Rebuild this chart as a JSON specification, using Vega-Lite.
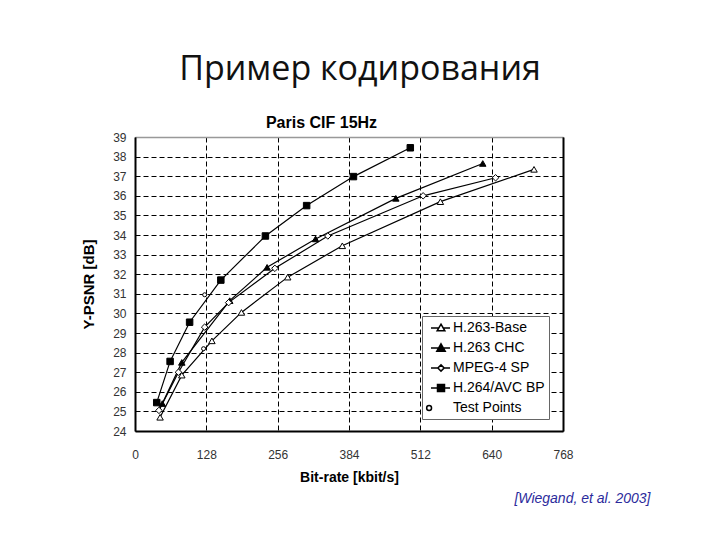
{
  "$schema": "https://vega.github.io/schema/vega-lite/v6.json",
  "width": 428,
  "height": 294,
  "autosize": {"type": "none"},
  "padding": {"left": 135, "top": 137, "right": 157, "bottom": 109},
  "background": "white",
  "title": {"text": "Пример кодирования", "font": "Open Sans", "fontSize": 34, "fontWeight": "normal", "color": "#111111", "anchor": "middle", "dx": 11, "offset": 27},
  "data": {"values": [
    {"series": "H.263-Base", "rate": 45, "psnr": 24.7},
    {"series": "H.263-Base", "rate": 84, "psnr": 26.85},
    {"series": "H.263-Base", "rate": 138, "psnr": 28.6},
    {"series": "H.263-Base", "rate": 191, "psnr": 30.05},
    {"series": "H.263-Base", "rate": 274, "psnr": 31.85},
    {"series": "H.263-Base", "rate": 372, "psnr": 33.45},
    {"series": "H.263-Base", "rate": 548, "psnr": 35.7},
    {"series": "H.263-Base", "rate": 716, "psnr": 37.35},
    {"series": "H.263 CHC", "rate": 49, "psnr": 25.4},
    {"series": "H.263 CHC", "rate": 84, "psnr": 27.5},
    {"series": "H.263 CHC", "rate": 170, "psnr": 30.65},
    {"series": "H.263 CHC", "rate": 237, "psnr": 32.35},
    {"series": "H.263 CHC", "rate": 324, "psnr": 33.8},
    {"series": "H.263 CHC", "rate": 468, "psnr": 35.87},
    {"series": "H.263 CHC", "rate": 624, "psnr": 37.65},
    {"series": "MPEG-4 SP", "rate": 43, "psnr": 25.05},
    {"series": "MPEG-4 SP", "rate": 78, "psnr": 27.0},
    {"series": "MPEG-4 SP", "rate": 125, "psnr": 29.3},
    {"series": "MPEG-4 SP", "rate": 168, "psnr": 30.55},
    {"series": "MPEG-4 SP", "rate": 251, "psnr": 32.3},
    {"series": "MPEG-4 SP", "rate": 346, "psnr": 33.95},
    {"series": "MPEG-4 SP", "rate": 517, "psnr": 36.0},
    {"series": "MPEG-4 SP", "rate": 647, "psnr": 36.92},
    {"series": "H.264/AVC BP", "rate": 39, "psnr": 25.45},
    {"series": "H.264/AVC BP", "rate": 63, "psnr": 27.55},
    {"series": "H.264/AVC BP", "rate": 98, "psnr": 29.55},
    {"series": "H.264/AVC BP", "rate": 154, "psnr": 31.7},
    {"series": "H.264/AVC BP", "rate": 234, "psnr": 33.95},
    {"series": "H.264/AVC BP", "rate": 308, "psnr": 35.5},
    {"series": "H.264/AVC BP", "rate": 392, "psnr": 36.98},
    {"series": "H.264/AVC BP", "rate": 494, "psnr": 38.45},
    {"series": "Test Points", "rate": 125, "psnr": 30.95},
    {"series": "Test Points", "rate": 123, "psnr": 28.2}
  ]},
  "layer": [
    {
      "transform": [{"filter": "datum.series !== 'Test Points'"}],
      "mark": {"type": "line", "color": "black", "strokeWidth": 1.2},
      "encoding": {
        "x": {
          "field": "rate", "type": "quantitative",
          "scale": {"domain": [0, 768], "nice": false},
          "axis": {
            "orient": "bottom", "values": [0, 128, 256, 384, 512, 640, 768], "format": "d",
            "title": "Bit-rate [kbit/s]", "titleFont": "Liberation Sans", "titleFontSize": 14, "titleFontWeight": "bold", "titleColor": "black", "titlePadding": 10,
            "labelFont": "Liberation Sans", "labelFontSize": 12, "labelColor": "#333333", "labelPadding": 18, "labelFlush": false,
            "ticks": false, "domain": true, "domainColor": "black", "domainWidth": 2,
            "grid": true, "gridColor": "black", "gridDash": [5, 3], "gridWidth": 1, "gridOpacity": 1
          }
        },
        "y": {
          "field": "psnr", "type": "quantitative",
          "scale": {"domain": [24, 39], "nice": false, "zero": false},
          "axis": {
            "values": [24, 25, 26, 27, 28, 29, 30, 31, 32, 33, 34, 35, 36, 37, 38, 39], "format": "d",
            "title": "Y-PSNR [dB]", "titleFont": "Liberation Sans", "titleFontSize": 15, "titleFontWeight": "bold", "titleColor": "black", "titlePadding": 16,
            "labelFont": "Liberation Sans", "labelFontSize": 12, "labelColor": "#333333", "labelPadding": 9, "labelFlush": false, "labelOverlap": false,
            "ticks": false, "domain": true, "domainColor": "black", "domainWidth": 2,
            "grid": true, "gridColor": "black", "gridDash": [5, 3], "gridWidth": 1,
            "gridOpacity": {"condition": {"test": "datum.value >= 39", "value": 0}, "value": 1}
          }
        },
        "detail": {"field": "series", "type": "nominal"},
        "order": {"field": "rate", "type": "quantitative"}
      }
    },
    {
      "mark": {"type": "point", "filled": true, "opacity": 1, "strokeWidth": 1},
      "encoding": {
        "x": {
          "field": "rate", "type": "quantitative",
          "axis": {
            "orient": "top", "labels": false, "ticks": false, "grid": false,
            "domain": true, "domainColor": "#999999", "domainWidth": 1.5,
            "title": "Paris CIF 15Hz", "titleFont": "Liberation Sans", "titleFontSize": 16, "titleFontWeight": "bold", "titleColor": "black",
            "titleAngle": 0, "titleAlign": "center", "titleBaseline": "middle", "titleX": 186, "titleY": -15
          }
        },
        "y": {
          "field": "psnr", "type": "quantitative",
          "axis": {
            "orient": "right", "labels": false, "ticks": false, "grid": false,
            "domain": true, "domainColor": "black", "domainWidth": 2,
            "title": "[Wiegand, et al. 2003]", "titleFont": "Liberation Sans", "titleFontSize": 14, "titleFontStyle": "italic", "titleFontWeight": "normal", "titleColor": "#2b2b9c",
            "titleAngle": 0, "titleAlign": "right", "titleBaseline": "middle", "titleX": 87, "titleY": 361
          }
        },
        "shape": {
          "field": "series", "type": "nominal",
          "scale": {"domain": ["H.263-Base", "H.263 CHC", "MPEG-4 SP", "H.264/AVC BP", "Test Points"], "range": ["triangle-up", "triangle-up", "diamond", "square", "circle"]},
          "legend": null
        },
        "fill": {
          "field": "series", "type": "nominal",
          "scale": {"domain": ["H.263-Base", "H.263 CHC", "MPEG-4 SP", "H.264/AVC BP", "Test Points"], "range": ["white", "black", "white", "black", "white"]},
          "legend": null
        },
        "stroke": {"value": "black"},
        "size": {"condition": {"test": "datum.series === 'Test Points'", "value": 16}, "value": 42}
      }
    },
    {
      "transform": [{"filter": "false"}],
      "mark": {"type": "point", "filled": false, "opacity": 1, "strokeWidth": 1.4, "color": "black"},
      "encoding": {
        "x": {"field": "rate", "type": "quantitative", "axis": null},
        "y": {"field": "psnr", "type": "quantitative", "axis": null},
        "shape": {
          "field": "series", "type": "nominal",
          "scale": {"domain": ["H.263-Base", "H.263 CHC", "MPEG-4 SP", "H.264/AVC BP", "Test Points"],
            "range": [
              "M-0.43,0H0.68M1.32,0H2.29M1,-0.55L1.55,0.4L0.45,0.4Z",
              "M-0.43,0H2.29M1,-0.6L1.6,0.45L0.4,0.45ZM1,-0.38L1.38,0.32L0.62,0.32ZM1,-0.15L1.15,0.2L0.85,0.2Z",
              "M-0.43,0H0.55M1.45,0H2.29M1,-0.45L1.45,0L1,0.45L0.55,0Z",
              "M-0.43,0H2.29M0.5,-0.5H1.5V0.5H0.5ZM0.7,-0.3H1.3V0.3H0.7ZM0.9,-0.1H1.1V0.1H0.9Z",
              "M-0.35,0A0.35,0.35,0,1,1,-1.05,0A0.35,0.35,0,1,1,-0.35,0"
            ]},
          "legend": {
            "orient": "none", "legendX": 287, "legendY": 179, "title": null,
            "fillColor": "white", "strokeColor": "#666666", "padding": 4,
            "symbolSize": 196, "rowPadding": 5, "labelOffset": 11,
            "labelFont": "Liberation Sans", "labelFontSize": 14, "labelColor": "black"
          }
        }
      }
    }
  ],
  "resolve": {"axis": {"x": "independent", "y": "independent"}, "scale": {"shape": "independent"}},
  "config": {"view": {"stroke": null}}
}
